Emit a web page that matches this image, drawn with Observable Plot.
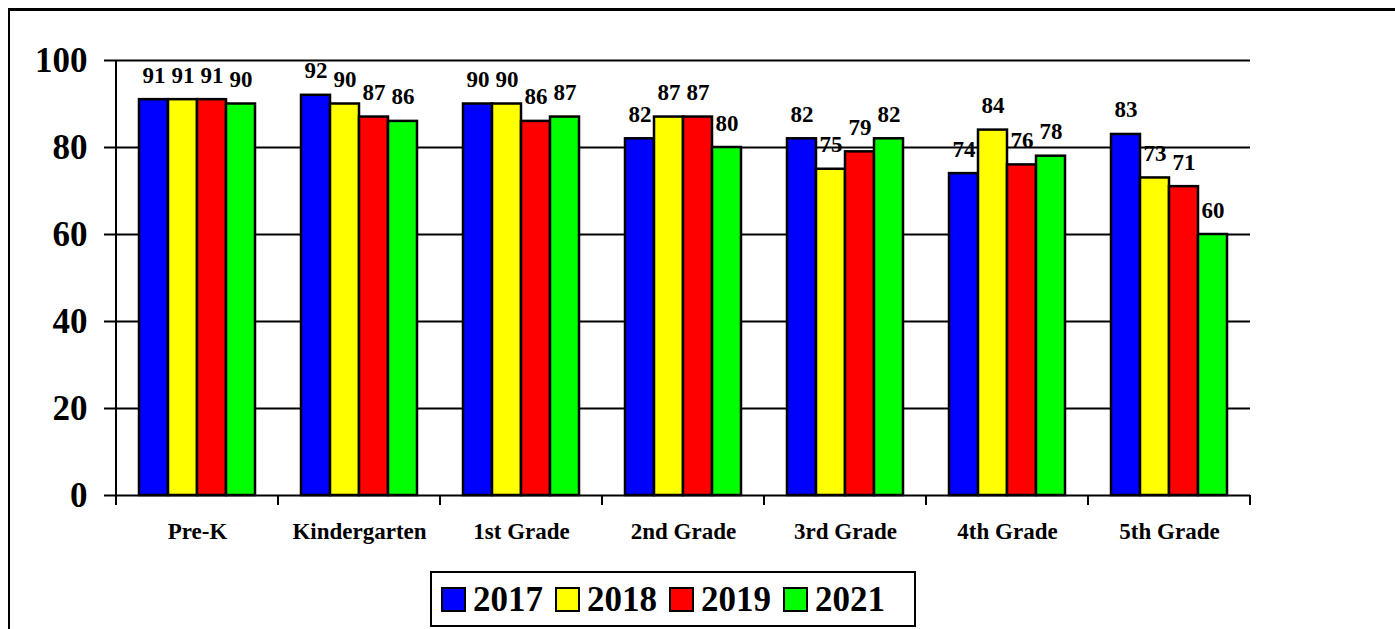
<!DOCTYPE html>
<html>
<head>
<meta charset="utf-8">
<script src="https://cdn.jsdelivr.net/npm/d3@7"></script>
<script src="https://cdn.jsdelivr.net/npm/@observablehq/plot@0.6"></script>
<style>
  html, body { margin: 0; padding: 0; background: #fff; }
  #wrap { position: relative; width: 1395px; height: 629px; overflow: hidden; font-family: "Liberation Serif", "Times New Roman", Times, serif; }
  #frame { position: absolute; left: 8px; top: 8px; width: 1400px; height: 700px; border-left: 2px solid #000; border-top: 3px solid #000; }
  #chart { position: absolute; left: 0; top: 0; }
  #legend { position: absolute; left: 430px; top: 571px; width: 473px; height: 52px; border: 2px solid #000; display: flex; align-items: center; padding-left: 9px; box-sizing: content-box; }
  .item { display: flex; align-items: center; margin-right: 12px; }
  .sw { width: 21px; height: 21px; border: 2px solid #000; margin-right: 7px; }
  .lab { font-weight: bold; font-size: 35px; line-height: 1; }
</style>
</head>
<body>
<div id="wrap">
  <div id="frame"></div>
  <div id="chart"></div>
  <div id="legend"></div>
</div>
<script>
const categories = ["Pre-K", "Kindergarten", "1st Grade", "2nd Grade", "3rd Grade", "4th Grade", "5th Grade"];
const years = ["2017", "2018", "2019", "2021"];
const colors = ["#0000FF", "#FFFF00", "#FF0000", "#00FF00"];
const v2017 = [91, 92, 90, 82, 82, 74, 83];
const v2018 = [91, 90, 90, 87, 75, 84, 73];
const v2019 = [91, 87, 86, 87, 79, 76, 71];
const v2021 = [90, 86, 87, 80, 82, 78, 60];
const yTicks = [0, 20, 40, 60, 80, 100];

const series = [v2017, v2018, v2019, v2021];
const data = [];
categories.forEach((c, i) => {
  years.forEach((y, j) => data.push({grade: c, year: y, value: series[j][i]}));
});

const font = "Liberation Serif, Times New Roman, Times, serif";

const chart = Plot.plot({
  width: 1395,
  height: 560,
  marginLeft: 115,
  marginRight: 145,
  marginTop: 60,
  marginBottom: 65,
  style: {fontFamily: font, background: "transparent", overflow: "visible"},
  fx: {domain: categories, padding: 0, label: null},
  x: {domain: years, paddingInner: 0, paddingOuter: 0.745, axis: null},
  y: {domain: [0, 100], label: null},
  color: {domain: years, range: colors},
  marks: [
    Plot.ruleY(yTicks, {stroke: "#000", strokeWidth: 2}),
    Plot.barY(data, {fx: "grade", x: "year", y: "value", fill: "year", stroke: "#000", strokeWidth: 2.5}),
    Plot.text(data, {fx: "grade", x: "year", y: "value", text: d => String(d.value), dy: -17, lineAnchor: "bottom",
      fontSize: 23, fontWeight: "bold", fill: "#000", fontFamily: font}),
    Plot.axisY({ticks: yTicks, tickSize: 12, tickPadding: 17, fontSize: 35, fontWeight: "bold", stroke: "#000", strokeWidth: 2, fill: "#000", label: null}),
    Plot.axisFx({anchor: "bottom", tickSize: 0, tickPadding: 27, fontSize: 23, fontWeight: "bold", fill: "#000", label: null})
  ]
});
document.getElementById("chart").appendChild(chart);

// axis line and category boundary ticks, placed with the chart's own scales
const fx = chart.scale("fx");
const ys = chart.scale("y");
const svg = d3.select(chart);
const y0 = ys.apply(0), y100 = ys.apply(100);
const x0 = fx.apply(categories[0]);
const bounds = categories.map(c => fx.apply(c)).concat([fx.apply(categories[categories.length - 1]) + fx.bandwidth]);
svg.append("line").attr("x1", x0).attr("x2", x0).attr("y1", y100).attr("y2", y0).attr("stroke", "#000").attr("stroke-width", 2);
bounds.forEach(b => {
  svg.append("line").attr("x1", b).attr("x2", b).attr("y1", y0).attr("y2", y0 + 10).attr("stroke", "#000").attr("stroke-width", 2);
});

const legend = document.getElementById("legend");
years.forEach((y, i) => {
  const it = document.createElement("div");
  it.className = "item";
  const sw = document.createElement("div");
  sw.className = "sw";
  sw.style.background = colors[i];
  const lab = document.createElement("span");
  lab.className = "lab";
  lab.textContent = y;
  it.appendChild(sw); it.appendChild(lab);
  legend.appendChild(it);
});
</script>
</body>
</html>
